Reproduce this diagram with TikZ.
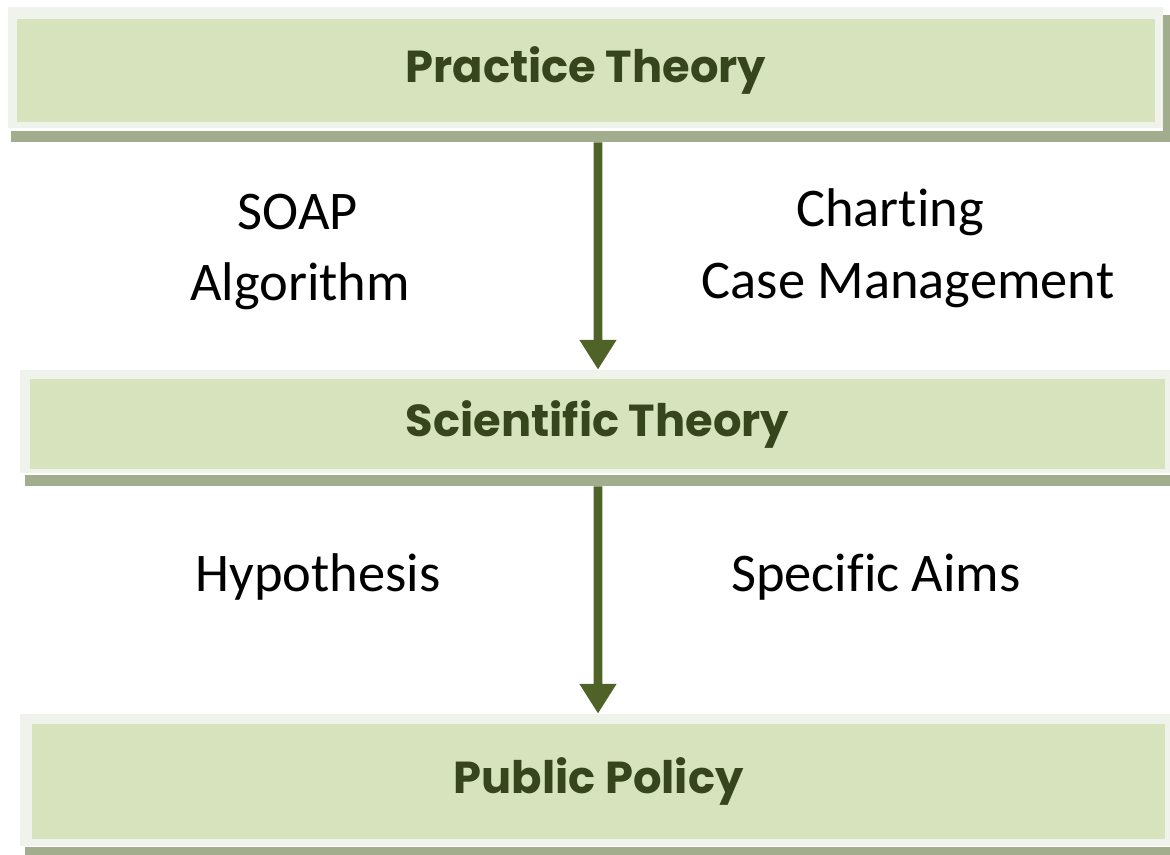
\documentclass[tikz,border=0pt]{standalone}
\usepackage{fontspec}
\setmainfont{Carlito}[Ligatures=NoCommon]
\newfontfamily\headfont{Poppins}
\usetikzlibrary{arrows.meta}

\definecolor{boxgreen}{HTML}{D7E3BD}
\definecolor{boxframe}{HTML}{F0F2EC}
\definecolor{boxstrip}{HTML}{A2AD8E}
\definecolor{arrowgreen}{HTML}{4F6228}
\definecolor{headtext}{HTML}{37451C}

% split a letter pair so no ligature is formed
\newcommand{\nolig}{\kern0pt}

\tikzset{
  framebox/.style = {fill=boxframe, draw=none, inner sep=0pt},
  stripbox/.style = {fill=boxstrip, draw=none, inner sep=0pt},
  levelbox/.style = {fill=boxgreen, draw=none, inner sep=0pt,
                     font=\headfont\bfseries\fontsize{25.5}{30}\selectfont, text=headtext},
  itemtext/.style = {font=\fontsize{31}{37}\selectfont, text=black, align=center},
  flowarrow/.style = {-{Triangle[length=17pt,width=20pt]}, line width=5pt, arrowgreen}
}

\begin{document}
\begin{tikzpicture}[x=0.02cm, y=-0.02cm]
		\useasboundingbox (0,0) rectangle (1170,855);

		% top level
		\fill [boxstrip] (1163,15) rectangle (1170,142);
		\node [stripbox, minimum width=1159*0.02cm, minimum height=11*0.02cm] (strip1) at (590.5,136.5) {};
		\node [framebox, minimum width=1155*0.02cm, minimum height=121*0.02cm] (frame1) at (585.5,67.5) {};
		\node [levelbox, minimum width=1138*0.02cm, minimum height=103*0.02cm] (practice) at (586,70.5) {Practice Theory};

		% middle level
		\node [stripbox, minimum width=1145*0.02cm, minimum height=11*0.02cm] (strip2) at (597.5,480.5) {};
		\node [framebox, minimum width=1150*0.02cm, minimum height=103*0.02cm] (frame2) at (595,421.5) {};
		\node [levelbox, minimum width=1135*0.02cm, minimum height=90*0.02cm] (scientific) at (597.5,424) {Scienti\nolig fic Theory};

		% bottom level
		\node [stripbox, minimum width=1145*0.02cm, minimum height=10*0.02cm] (strip3) at (597.5,852) {};
		\node [framebox, minimum width=1150*0.02cm, minimum height=132*0.02cm] (frame3) at (595,780) {};
		\node [levelbox, minimum width=1133*0.02cm, minimum height=115*0.02cm] (policy) at (598.5,781.5) {Public Policy};

		% arrows
		\draw [flowarrow] ([xshift=7.5*0.02cm]strip1.south) -- ([xshift=3*0.02cm]frame2.north);
		\draw [flowarrow] ([xshift=0.5*0.02cm]strip2.south) -- ([xshift=3*0.02cm]frame3.north);

		% labels
		\node [itemtext] (soap) at (298,212) {SOAP};
		\node [itemtext] (algorithm) at (300,286) {Algorithm};
		\node [itemtext] (charting) at (890,212) {Chart\nolig ing};
		\node [itemtext] (casemgmt) at (908,286) {Case Management};
		\node [itemtext] (hypothesis) at (318,577) {Hypothesis};
		\node [itemtext] (aims) at (876,577) {Speci\nolig fic Aims};

		\end{tikzpicture}
\end{document}
